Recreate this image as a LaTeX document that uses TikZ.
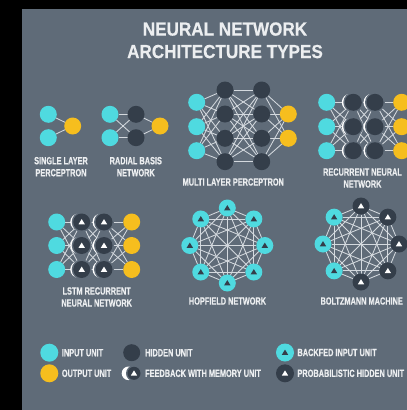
\documentclass[tikz,border=0pt]{standalone}
\usepackage{fontspec}
\usetikzlibrary{calc}
\newfontfamily\condfont{Liberation Sans Bold}[FakeStretch=0.7,FakeBold=0.4]
\newfontfamily\titlefont{Liberation Sans Bold}[FakeStretch=0.9,FakeBold=0.4]
\definecolor{bgc}{RGB}{95,107,120}
\definecolor{cyanc}{RGB}{79,218,224}
\definecolor{yelc}{RGB}{246,190,30}
\definecolor{darkc}{RGB}{52,62,74}
\definecolor{txtc}{RGB}{236,238,240}
\definecolor{edgec}{RGB}{212,217,222}
\pgfdeclarelayer{bg}
\pgfdeclarelayer{edges}
\pgfdeclarelayer{ring}
\pgfsetlayers{bg,edges,ring,main}
\tikzset{
  unit/.style={circle, minimum size=17pt, inner sep=0pt, outer sep=0pt},
  inunit/.style={unit, fill=cyanc},
  outunit/.style={unit, fill=yelc},
  hidunit/.style={unit, fill=darkc},
  trimark/.style={path picture={\fill[#1]
      ([yshift=2.9pt]path picture bounding box.center) --
      ([xshift=-3.2pt,yshift=-2.3pt]path picture bounding box.center) --
      ([xshift=3.2pt,yshift=-2.3pt]path picture bounding box.center) -- cycle;}},
  link/.style={draw=edgec, line width=0.85pt},
  lbl/.style={text=txtc, font=\condfont\fontsize{10.5}{12}\selectfont, align=center, inner sep=0pt},
  ttl/.style={text=txtc, font=\titlefont\fontsize{19}{22.5}\selectfont, align=center, inner sep=0pt},
}
% memory crescent drawn behind a hidden unit
\newcommand{\memring}[1]{%
  \fill[white] ([xshift=-3pt]#1.center) circle (8.5pt);
  \fill[bgc] (#1.center) circle (10pt);}
\begin{document}
\begin{tikzpicture}[x=1pt,y=-1pt]
\useasboundingbox (0,0) rectangle (407,410);
\begin{pgfonlayer}{bg}
  \fill[black] (0,0) rectangle (407,410);
  \fill[bgc] (22,9) rectangle (407,410);
\end{pgfonlayer}

% title
\node[ttl] (title) at (225,40.3) {NEURAL NETWORK\\ARCHITECTURE TYPES};

% single layer perceptron
\node[inunit] (s1) at (48.3,114.3) {};
\node[inunit] (s2) at (48.3,137.7) {};
\node[outunit] (so) at (72.7,126) {};
\node[lbl] (slbl) at (61,166.7) {SINGLE LAYER\\PERCEPTRON};

% radial basis network
\node[inunit] (b1) at (110,114.3) {};
\node[inunit] (b2) at (110,137.7) {};
\node[hidunit] (bh1) at (136,114.3) {};
\node[hidunit] (bh2) at (136,137.7) {};
\node[outunit] (bo) at (160,126) {};
\node[lbl] (blbl) at (135.8,166.7) {RADIAL BASIS\\NETWORK};

% multi layer perceptron
\foreach \i/\y in {1/102.3,2/126.7,3/150.7}
  \node[inunit] (mi\i) at (196.7,\y) {};
\foreach \i/\y in {1/90,2/114,3/138.3,4/161.7} {
  \node[hidunit] (mh\i) at (225,\y) {};
  \node[hidunit] (mg\i) at (261.7,\y) {};
}
\node[outunit] (mo1) at (288.3,114) {};
\node[outunit] (mo2) at (288.3,138.3) {};
\node[lbl] (mlbl) at (233.3,182) {MULTI LAYER PERCEPTRON};

% recurrent neural network
\foreach \i/\y in {1/102.3,2/126.7,3/150.7} {
  \node[inunit] (ri\i) at (326.7,\y) {};
  \node[hidunit] (rh\i) at (353.3,\y) {};
  \node[hidunit] (rg\i) at (375,\y) {};
  \node[outunit] (ro\i) at (401.7,\y) {};
}
\node[lbl] (rlbl) at (362.5,178) {RECURRENT NEURAL\\NETWORK};

% LSTM recurrent neural network
\foreach \i/\y in {1/222,2/245.5,3/269.5} {
  \node[inunit] (li\i) at (56.7,\y) {};
  \node[hidunit, trimark=white] (lh\i) at (81.7,\y) {};
  \node[hidunit, trimark=white] (lg\i) at (104,\y) {};
  \node[outunit] (lo\i) at (131.7,\y) {};
}
\node[lbl] (llbl) at (96.7,297) {LSTM RECURRENT\\NEURAL NETWORK};

% Hopfield network
\coordinate (hc) at (227.3,245.5);
\foreach \i in {1,...,8} {
  \pgfmathsetmacro\ang{90-45*(\i-1)}
  \node[inunit, trimark=darkc] (h\i) at ([shift={(\ang:37.5pt)}]hc) {};
}
\node[lbl] (hlbl) at (227.5,301) {HOPFIELD NETWORK};

% Boltzmann machine
\coordinate (zc) at (361,244);
\foreach \i in {1,...,5} {
  \pgfmathsetmacro\ang{90-45*(\i-1)}
  \node[hidunit, trimark=white] (z\i) at ([shift={(\ang:38pt)}]zc) {};
}
\foreach \i in {6,7,8} {
  \pgfmathsetmacro\ang{90-45*(\i-1)}
  \node[inunit, trimark=darkc] (z\i) at ([shift={(\ang:38pt)}]zc) {};
}
\node[lbl] (zlbl) at (361.7,301) {BOLTZMANN MACHINE};

% legend
\node[inunit, minimum size=18pt] (kin) at (49.3,352.7) {};
\node[lbl, anchor=west] (kint) at (61.7,352.7) {INPUT UNIT};
\node[outunit, minimum size=18pt] (kout) at (49.3,373.3) {};
\node[lbl, anchor=west] (koutt) at (61.7,373.3) {OUTPUT UNIT};
\node[hidunit, minimum size=17pt] (khid) at (131.7,352.7) {};
\node[lbl, anchor=west] (khidt) at (145,352.7) {HIDDEN UNIT};
\node[hidunit, minimum size=13pt, trimark=white] (kmem) at (134,373.3) {};
\node[lbl, anchor=west] (kmemt) at (145,373.3) {FEEDBACK WITH MEMORY UNIT};
\node[inunit, minimum size=18pt, trimark=darkc] (kbf) at (285,352.5) {};
\node[lbl, anchor=west] (kbft) at (297.3,352.5) {BACKFED INPUT UNIT};
\node[hidunit, minimum size=18pt, trimark=white] (kpr) at (285,373.3) {};
\node[lbl, anchor=west] (kprt) at (297.3,373.3) {PROBABILISTIC HIDDEN UNIT};

% connections
\begin{pgfonlayer}{edges}
  \draw[link] (s1) -- (so);
  \draw[link] (s2) -- (so);
  \foreach \a in {b1,b2} \foreach \b in {bh1,bh2} \draw[link] (\a) -- (\b);
  \draw[link] (bh1) -- (bo);
  \draw[link] (bh2) -- (bo);
  \foreach \a in {1,2,3} \foreach \b in {1,...,4} \draw[link] (mi\a) -- (mh\b);
  \foreach \a in {1,...,4} \foreach \b in {1,...,4} \draw[link] (mh\a) -- (mg\b);
  \foreach \a in {1,...,4} \foreach \b in {1,2} \draw[link] (mg\a) -- (mo\b);
  \foreach \a in {1,2,3} \foreach \b in {1,2,3} {
    \draw[link] (ri\a) -- (rh\b);
    \draw[link] (rh\a) -- (rg\b);
    \draw[link] (rg\a) -- (ro\b);
    \draw[link] (li\a) -- (lh\b);
    \draw[link] (lh\a) -- (lg\b);
    \draw[link] (lg\a) -- (lo\b);
  }
  \foreach \i in {1,...,7} {
    \pgfmathtruncatemacro\k{\i+1}
    \foreach \j in {\k,...,8} {
      \draw[link] (h\i) -- (h\j);
      \draw[link] (z\i) -- (z\j);
    }
  }
\end{pgfonlayer}

% memory crescents
\begin{pgfonlayer}{ring}
  \foreach \i in {1,2,3} {
    \memring{rh\i} \memring{rg\i} \memring{lh\i} \memring{lg\i}
  }
  \fill[white] ([xshift=-5.5pt]kmem.center) circle (6.8pt);
  \fill[bgc] (kmem.center) circle (8pt);
\end{pgfonlayer}
\end{tikzpicture}
\end{document}
